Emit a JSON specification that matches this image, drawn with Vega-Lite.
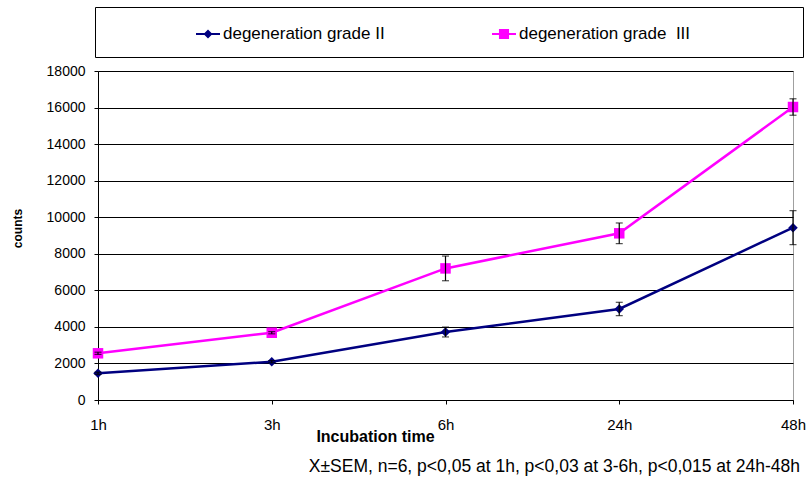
{
  "$schema": "https://vega.github.io/schema/vega-lite/v6.json",
  "width": 695,
  "height": 329,
  "autosize": {"type": "none"},
  "padding": {"left": 98, "top": 71, "right": 17, "bottom": 79},
  "background": "white",
  "config": {
    "font": "Liberation Sans",
    "view": {"stroke": "#a0a0a0", "strokeWidth": 1}
  },
  "title": {
    "text": "X±SEM, n=6, p<0,05 at 1h, p<0,03 at 3-6h, p<0,015 at 24h-48h",
    "orient": "bottom",
    "anchor": "end",
    "frame": "group",
    "fontSize": 17.5,
    "fontWeight": "normal",
    "font": "Liberation Sans",
    "color": "black",
    "offset": 14,
    "dx": 7
  },
  "data": {
    "values": [
      {"time": "1h", "series": "degeneration grade II", "value": 1460, "err": 60},
      {"time": "3h", "series": "degeneration grade II", "value": 2095, "err": 60},
      {"time": "6h", "series": "degeneration grade II", "value": 3720, "err": 270},
      {"time": "24h", "series": "degeneration grade II", "value": 4980, "err": 365},
      {"time": "48h", "series": "degeneration grade II", "value": 9430, "err": 930},
      {"time": "1h", "series": "degeneration grade  III", "value": 2555, "err": 60},
      {"time": "3h", "series": "degeneration grade  III", "value": 3680, "err": 60},
      {"time": "6h", "series": "degeneration grade  III", "value": 7200, "err": 675},
      {"time": "24h", "series": "degeneration grade  III", "value": 9120, "err": 565},
      {"time": "48h", "series": "degeneration grade  III", "value": 16030, "err": 450}
    ]
  },
  "encoding": {
    "x": {
      "field": "time",
      "type": "ordinal",
      "sort": ["1h", "3h", "6h", "24h", "48h"],
      "scale": {"type": "point", "padding": 0},
      "axis": {
        "title": "Incubation time",
        "titleFont": "Liberation Sans",
        "titleFontSize": 16,
        "titleFontWeight": "bold",
        "titleColor": "black",
        "titleX": 277,
        "titleY": 28,
        "titleBaseline": "top",
        "titleAlign": "center",
        "labelAngle": 0,
        "labelFont": "Liberation Sans",
        "labelFontSize": 15,
        "labelColor": "black",
        "labelPadding": 13,
        "labelBaseline": "top",
        "tickSize": 4,
        "tickColor": "black",
        "domainColor": "black",
        "grid": false
      }
    },
    "y": {
      "field": "value",
      "type": "quantitative",
      "scale": {"domain": [0, 18000], "nice": false},
      "axis": {
        "title": "counts",
        "titleFont": "Liberation Sans",
        "titleFontSize": 12,
        "titleFontWeight": "bold",
        "titleColor": "black",
        "titleX": -81,
        "titleY": 157,
        "titleAlign": "center",
        "titleBaseline": "middle",
        "values": [0, 2000, 4000, 6000, 8000, 10000, 12000, 14000, 16000, 18000],
        "format": "d",
        "labelFont": "Liberation Sans",
        "labelFontSize": 14,
        "labelColor": "black",
        "labelPadding": 9,
        "tickSize": 4,
        "tickColor": "black",
        "domainColor": "black",
        "grid": true,
        "gridColor": "black",
        "gridWidth": 1,
        "gridOpacity": 1
      }
    }
  },
  "layer": [
    {
      "mark": {"type": "line", "strokeWidth": 2.5},
      "encoding": {
        "color": {
          "field": "series",
          "type": "nominal",
          "scale": {"domain": ["degeneration grade II", "degeneration grade  III"], "range": ["#000080", "#FF00FF"]},
          "legend": {
            "orient": "none",
            "legendX": -3,
            "legendY": -64,
            "direction": "horizontal",
            "columns": 2,
            "title": null,
            "padding": 15,
            "strokeColor": "black",
            "fillColor": "white",
            "symbolSize": 576,
            "symbolOffset": 86,
            "labelFont": "Liberation Sans",
            "labelFontSize": 17,
            "labelColor": "black",
            "labelOffset": 3,
            "labelLimit": 900,
            "columnPadding": 21,
            "labelExpr": "datum.label == 'degeneration grade  III' ? 'degeneration grade \u00a0III\u00a0\u00a0\u00a0\u00a0\u00a0\u00a0\u00a0\u00a0\u00a0\u00a0\u00a0\u00a0\u00a0\u00a0\u00a0\u00a0\u00a0\u00a0\u2800' : datum.label",
            "encode": {
              "symbols": {
                "update": {
                  "shape": {"signal": "datum.value === 'degeneration grade II' ? 'M-1,-0.085H1V0.085H-1ZM0,-0.375L0.375,0L0,0.375L-0.375,0Z' : 'M-1,-0.085H1V0.085H-1ZM-0.42,-0.42H0.42V0.42H-0.42Z'"},
                  "fill": {"scale": "color", "field": "value"},
                  "stroke": {"value": "transparent"},
                  "strokeWidth": {"value": 0},
                  "size": {"value": 576},
                  "opacity": {"value": 1}
                }
              }
            }
          }
        }
      }
    },
    {
      "transform": [{"filter": "datum.series == 'degeneration grade II'"}],
      "mark": {"type": "point", "filled": true, "opacity": 1, "shape": "diamond", "size": 90},
      "encoding": {
        "color": {"field": "series", "type": "nominal"}
      }
    },
    {
      "transform": [{"filter": "datum.series == 'degeneration grade  III'"}],
      "mark": {"type": "point", "filled": true, "opacity": 1, "shape": "square", "size": 110},
      "encoding": {
        "color": {"field": "series", "type": "nominal"}
      }
    },
    {
      "mark": {"type": "errorbar", "color": "black", "thickness": 1.2, "ticks": {"size": 7, "color": "black", "thickness": 1.2}},
      "encoding": {
        "yError": {"field": "err"}
      }
    }
  ]
}
